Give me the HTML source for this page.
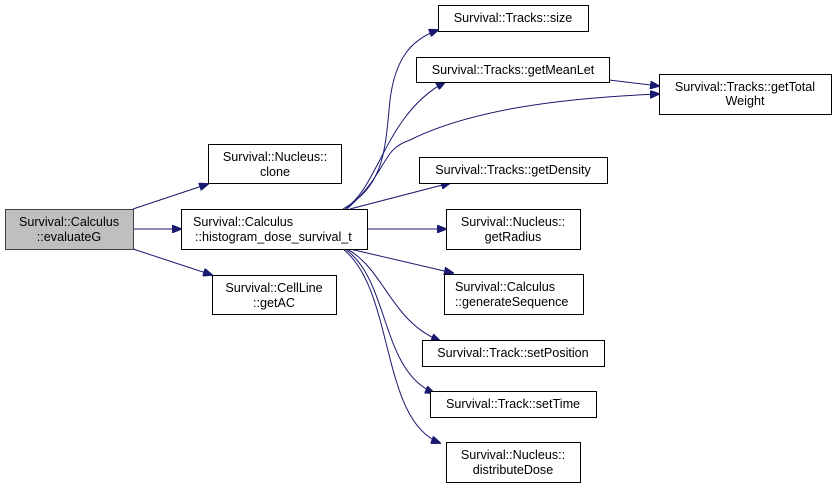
<!DOCTYPE html>
<html><head><style>body{margin:0;background:#fff}svg{display:block}text{font-family:"Liberation Sans",sans-serif;font-size:12.6px;fill:#000}</style></head><body>
<svg width="837" height="488" viewBox="0 0 837 488">
<defs><marker id="a" markerWidth="10" markerHeight="8" refX="9" refY="4" orient="auto" markerUnits="userSpaceOnUse"><path d="M0,0 L10,4 L0,8 z" fill="#191970" stroke="#191970"/></marker></defs>
<g fill="none" stroke="#191970" stroke-width="1" marker-end="url(#a)">
<path d="M133,209 L208,184"/>
<path d="M133,229 L181,229"/>
<path d="M133,249 L212,275"/>
<path d="M343,209 C385,185 385,150 390,100 C395,60 410,40 438,30"/>
<path d="M345,209 C380,185 385,115 445,82"/>
<path d="M347,209 C390,170 380,150 410,140 C470,110 560,98 659,94"/>
<path d="M609,80 L659,86"/>
<path d="M350,209 L450,183"/>
<path d="M367,229 L446,229"/>
<path d="M350,249 L453,273"/>
<path d="M347,249 C385,270 390,320 440,341"/>
<path d="M345,249 C390,280 380,370 434,393"/>
<path d="M343,249 C395,290 380,420 440,443"/>
</g>
<g stroke-width="1" fill="#fff" stroke="#000">
<rect x="5.5" y="209.5" width="128" height="40" fill="#bfbfbf" stroke="#404040"/>
<rect x="208.5" y="144.5" width="133" height="39"/>
<rect x="181.5" y="209.5" width="186" height="40"/>
<rect x="212.5" y="275.5" width="124" height="39"/>
<rect x="438.5" y="5.5" width="150" height="26"/>
<rect x="416.5" y="57.5" width="193" height="25"/>
<rect x="659.5" y="74.5" width="172" height="40"/>
<rect x="419.5" y="157.5" width="188" height="26"/>
<rect x="446.5" y="209.5" width="134" height="40"/>
<rect x="444.5" y="274.5" width="139" height="40"/>
<rect x="422.5" y="340.5" width="182" height="26"/>
<rect x="430.5" y="391.5" width="166" height="26"/>
<rect x="446.5" y="442.5" width="134" height="40"/>
</g>
<g text-anchor="middle">
<text x="69" y="226">Survival::Calculus</text><text x="69" y="241">::evaluateG</text>
<text x="275" y="161">Survival::Nucleus::</text><text x="275" y="176">clone</text>
<text x="193" y="226" text-anchor="start">Survival::Calculus</text><text x="195" y="241" text-anchor="start">::histogram_dose_survival_t</text>
<text x="274" y="292">Survival::CellLine</text><text x="274" y="307">::getAC</text>
<text x="513" y="22">Survival::Tracks::size</text>
<text x="513" y="74">Survival::Tracks::getMeanLet</text>
<text x="745" y="91">Survival::Tracks::getTotal</text><text x="745" y="105">Weight</text>
<text x="513" y="174">Survival::Tracks::getDensity</text>
<text x="513" y="226">Survival::Nucleus::</text><text x="513" y="241">getRadius</text>
<text x="455" y="291" text-anchor="start">Survival::Calculus</text><text x="455" y="306" text-anchor="start">::generateSequence</text>
<text x="513" y="357">Survival::Track::setPosition</text>
<text x="513" y="408">Survival::Track::setTime</text>
<text x="513" y="459">Survival::Nucleus::</text><text x="513" y="474">distributeDose</text>
</g>
</svg></body></html>
